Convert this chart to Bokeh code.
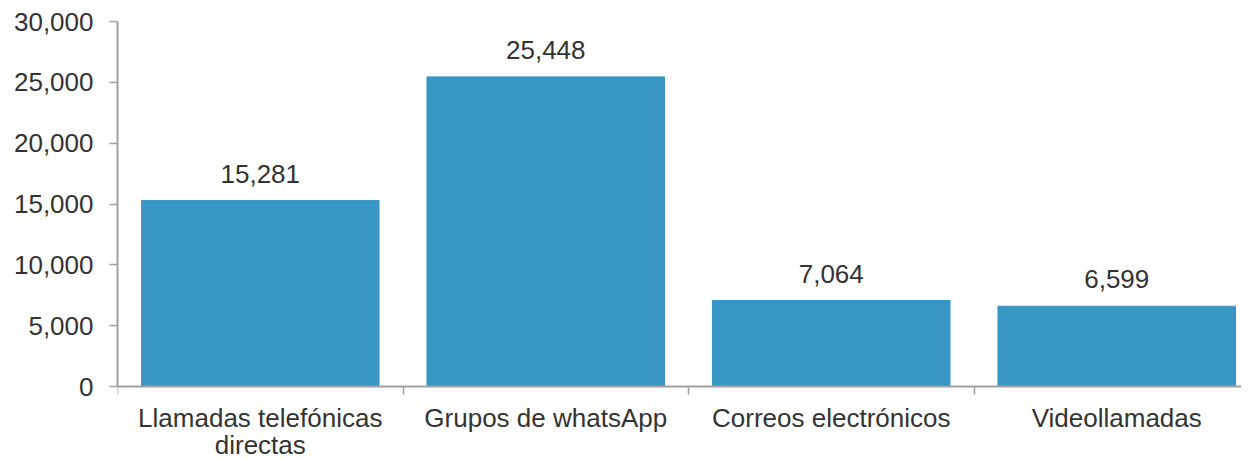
from bokeh.plotting import figure
from bokeh.models import Range1d, FixedTicker, NumeralTickFormatter, ColumnDataSource
from bokeh.embed import file_html
from bokeh.resources import INLINE
from bokeh.core.properties import value

categories = ["Llamadas telefónicas\ndirectas", "Grupos de whatsApp",
              "Correos electrónicos", "Videollamadas"]
values = [15281, 25448, 7064, 6599]
y_ticks = [0, 5000, 10000, 15000, 20000, 25000, 30000]

FONT = "Liberation Sans"
TEXT = "#333333"
AXIS = "#A0A0A0"
BAR = "#3896C3"

W, H = 1241, 460
TOP, ZERO, LEFT = 21, 386, 117      # frame top, pixel row of y=0, frame left
CAT_PX = 285.5                       # pixels per category

n = len(categories)
centers = [i + 0.5 for i in range(n)]
boundaries = list(range(n + 1))
labels = [f"{v:,}" for v in values]
ymax = y_ticks[-1]
ymin = -ymax * (H - ZERO) / (ZERO - TOP)
xmax = (W - LEFT) / CAT_PX

bars = ColumnDataSource(dict(x=centers, top=values, label=labels))
cats = ColumnDataSource(dict(x=centers, y=[0] * n, label=categories))

p = figure(width=W, height=H, output_backend="svg", toolbar_location=None,
           x_range=Range1d(0, xmax), y_range=Range1d(ymin, ymax),
           min_border_left=LEFT, min_border_right=0, min_border_top=TOP,
           min_border_bottom=0)
p.outline_line_color = None
p.grid.visible = False
p.background_fill_color = "white"
p.border_fill_color = "white"

p.vbar(x="x", top="top", width=0.832, source=bars, fill_color=BAR, line_color=BAR)
p.text(x="x", y="top", text="label", source=bars, text_align="center",
       text_baseline="alphabetic", y_offset=-27, text_font=value(FONT),
       text_font_size="26px", text_color=TEXT)
p.text(x="x", y="y", text="label", source=cats, text_align="center",
       text_baseline="top", y_offset=16, text_font=value(FONT),
       text_font_size="26px", text_color=TEXT, text_line_height=0.93)

xa = p.xaxis[0]
xa.fixed_location = 0
xa.ticker = FixedTicker(ticks=centers, minor_ticks=boundaries)
xa.major_label_text_font_size = "0px"
xa.major_label_text_alpha = 0
xa.major_tick_line_color = None
xa.major_tick_out = 0
xa.major_tick_in = 0
xa.minor_tick_line_color = AXIS
xa.minor_tick_line_width = 1.5
xa.minor_tick_out = 8
xa.minor_tick_in = 0
xa.axis_line_color = AXIS
xa.axis_line_width = 2

ya = p.yaxis[0]
ya.bounds = (0, ymax)
ya.ticker = FixedTicker(ticks=y_ticks)
ya.formatter = NumeralTickFormatter(format="0,0")
ya.major_tick_out = 8
ya.major_tick_in = 0
ya.major_tick_line_color = AXIS
ya.major_tick_line_width = 1.5
ya.minor_tick_line_color = None
ya.axis_line_color = AXIS
ya.axis_line_width = 2
ya.major_label_standoff = 16
ya.major_label_text_font = FONT
ya.major_label_text_font_size = "26px"
ya.major_label_text_color = TEXT

open("out.html", "w").write(file_html(p, INLINE))
